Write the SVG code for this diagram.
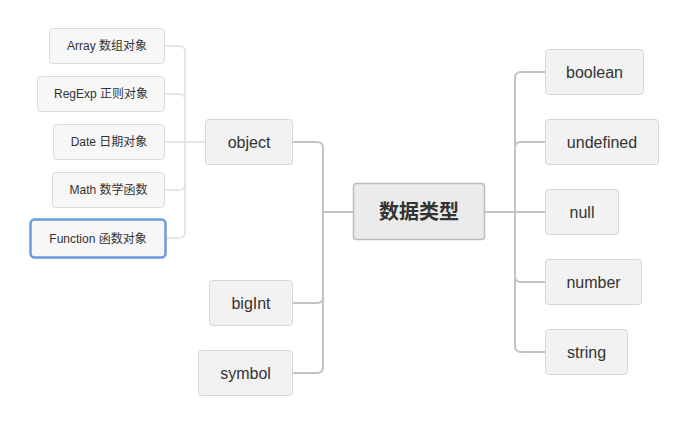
<svg xmlns="http://www.w3.org/2000/svg" width="677" height="424" viewBox="0 0 677 424">
<style>
text{font-family:"Liberation Sans","Noto Sans CJK SC",sans-serif;fill:#333;text-anchor:middle;dominant-baseline:central}
.n1 rect{fill:#f2f2f2;stroke:#d6d6d6;stroke-width:1}
.n2 rect{fill:#f7f7f7;stroke:#dcdcdc;stroke-width:1}
.n1 text{font-size:16px}
.n2 text{font-size:12px}
.c1{fill:none;stroke:#c4c4c4;stroke-width:2}
.c2{fill:none;stroke:#dedede;stroke-width:1.5}
</style>
<rect width="677" height="424" fill="#fff"/>
<g id="connectors">
<path class="c1" d="M292 142 H317 Q323 142 323 148 V367 Q323 373 317 373 H292"/>
<path class="c1" d="M323 212 H353"/>
<path class="c1" d="M292 303 H317 Q323 303 323 297"/>
<path class="c1" d="M484 212 H545"/>
<path class="c1" d="M545 72 H521 Q515 72 515 78 V346 Q515 352 521 352 H545"/>
<path class="c1" d="M545 142 H521 Q515 142 515 148"/>
<path class="c1" d="M545 282 H521 Q515 282 515 276"/>
<path class="c2" d="M164 46 H179 Q185 46 185 52 V232 Q185 238 179 238 H165"/>
<path class="c2" d="M164 94 H179 Q185 94 185 100"/>
<path class="c2" d="M164 142 H205"/>
<path class="c2" d="M164 190 H179 Q185 190 185 184"/>
</g>
<g id="root">
<rect x="353.5" y="183.5" width="131" height="56" rx="3" fill="#ebebeb" stroke="#bcbcbc" stroke-width="1.5"/>
<text x="419" y="212" font-size="20" font-weight="bold">数据类型</text>
</g>
<g id="object" class="n1"><rect x="205.5" y="119.5" width="87" height="45" rx="3"/><text x="249" y="142">object</text></g>
<g id="bigInt" class="n1"><rect x="209.5" y="280.5" width="83" height="45" rx="3"/><text x="251" y="303">bigInt</text></g>
<g id="symbol" class="n1"><rect x="198.5" y="350.5" width="94" height="45" rx="3"/><text x="245.5" y="373">symbol</text></g>
<g id="boolean" class="n1"><rect x="545.5" y="49.5" width="98" height="45" rx="3"/><text x="594.5" y="72">boolean</text></g>
<g id="undefined" class="n1"><rect x="545.5" y="119.5" width="113" height="45" rx="3"/><text x="602" y="142">undefined</text></g>
<g id="null" class="n1"><rect x="545.5" y="189.5" width="73" height="45" rx="3"/><text x="582" y="212">null</text></g>
<g id="number" class="n1"><rect x="545.5" y="259.5" width="96" height="45" rx="3"/><text x="593.5" y="282">number</text></g>
<g id="string" class="n1"><rect x="545.5" y="329.5" width="82" height="45" rx="3"/><text x="586.5" y="352">string</text></g>
<g id="array" class="n2"><rect x="49.5" y="28.5" width="115" height="35" rx="3"/><text x="107" y="46">Array 数组对象</text></g>
<g id="regexp" class="n2"><rect x="37.5" y="76.5" width="127" height="35" rx="3"/><text x="101" y="94">RegExp 正则对象</text></g>
<g id="date" class="n2"><rect x="53.5" y="124.5" width="111" height="35" rx="3"/><text x="109" y="142">Date 日期对象</text></g>
<g id="math" class="n2"><rect x="52.5" y="172.5" width="112" height="35" rx="3"/><text x="108.5" y="190">Math 数学函数</text></g>
<g id="function" class="n2"><rect x="30.5" y="219.5" width="135" height="38" rx="4" style="stroke:#6b9be0;stroke-width:2.5"/><text x="98" y="238.5">Function 函数对象</text></g>
</svg>
